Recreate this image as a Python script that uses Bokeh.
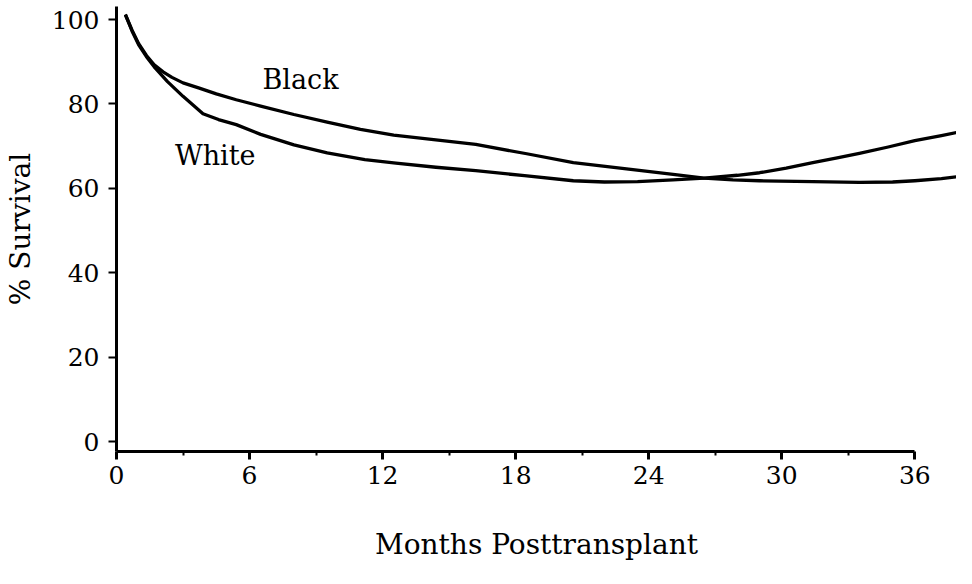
from bokeh.plotting import figure
from bokeh.models import Range1d, FixedTicker, Label
from bokeh.embed import file_html
from bokeh.resources import INLINE

# Data (months posttransplant, % survival)
black_months = [0.4, 0.7, 1.0, 1.35, 1.7, 2.1, 2.5, 3.0, 3.7, 4.5, 5.4, 6.5, 8.0, 9.5, 11.0, 12.5, 13.7, 16.2, 18.5, 20.6, 23.0, 25.1, 26.5, 27.8, 29.0, 31.4, 33.5, 35.0, 36.0, 37.2, 38.3]
black_surv = [101.2, 97.5, 94.3, 91.5, 89.3, 87.6, 86.3, 85.0, 83.8, 82.4, 81.0, 79.5, 77.5, 75.7, 74.0, 72.6, 71.9, 70.4, 68.2, 66.1, 64.6, 63.3, 62.4, 62.0, 61.8, 61.6, 61.4, 61.5, 61.8, 62.3, 63.0]

white_months = [0.4, 0.7, 1.0, 1.35, 1.7, 2.3, 3.0, 3.9, 4.6, 5.4, 6.5, 8.0, 9.5, 11.2, 12.6, 14.4, 16.2, 18.4, 20.6, 22.0, 23.5, 25.1, 26.5, 28.0, 29.0, 30.2, 31.4, 32.5, 33.5, 34.8, 36.0, 37.2, 38.3]
white_surv = [101.2, 97.3, 94.0, 91.2, 88.8, 85.3, 81.8, 77.7, 76.3, 75.1, 72.8, 70.3, 68.4, 66.8, 66.0, 65.0, 64.2, 63.0, 61.8, 61.5, 61.6, 62.0, 62.4, 63.1, 63.7, 64.8, 66.1, 67.2, 68.3, 69.8, 71.3, 72.5, 73.7]

x_ticks = [0, 6, 12, 18, 24, 30, 36]
x_minor_ticks = [3, 9, 15, 21, 27, 33]
y_ticks = [0, 20, 40, 60, 80, 100]

series_labels = ["Black", "White"]
label_pos_x = [8.3, 4.45]
label_pos_y = [85.8, 67.8]

x_title = "Months Posttransplant"
y_title = "% Survival"

FONT = "DejaVu Serif"

p = figure(width=956, height=568, output_backend="svg", toolbar_location=None,
           x_range=Range1d(0, 37.88), y_range=Range1d(-2.37, 103.1),
           min_border_left=112, min_border_right=0, min_border_top=6, min_border_bottom=117)
p.outline_line_color = None
p.grid.visible = False
p.background_fill_color = "white"

p.line(black_months, black_surv, line_color="black", line_width=3.3, line_join="round")
p.line(white_months, white_surv, line_color="black", line_width=3.3, line_join="round")

for t, lx, ly in zip(series_labels, label_pos_x, label_pos_y):
    p.add_layout(Label(x=lx, y=ly, text=t, text_font=FONT, text_font_size="27px",
                       text_align="center", text_baseline="middle", text_color="black"))

xa = p.xaxis[0]
xa.ticker = FixedTicker(ticks=x_ticks, minor_ticks=x_minor_ticks)
xa.bounds = (0, 36)
xa.axis_line_width = 3
xa.major_tick_line_width = 3
xa.minor_tick_line_width = 2
xa.major_tick_in = 0
xa.major_tick_out = 8
xa.minor_tick_in = 0
xa.minor_tick_out = 4
xa.major_label_standoff = 6
xa.major_label_text_font = FONT
xa.major_label_text_font_size = "25px"
xa.major_label_text_color = "black"
xa.axis_label = x_title
xa.axis_label_text_font = FONT
xa.axis_label_text_font_size = "28px"
xa.axis_label_text_font_style = "normal"
xa.axis_label_text_color = "black"
xa.axis_label_standoff = 41

ya = p.yaxis[0]
ya.ticker = FixedTicker(ticks=y_ticks, minor_ticks=[])
ya.axis_line_width = 3
ya.major_tick_line_width = 2
ya.major_tick_in = 0
ya.major_tick_out = 8
ya.minor_tick_in = 0
ya.minor_tick_out = 0
ya.major_label_standoff = 9
ya.major_label_text_font = FONT
ya.major_label_text_font_size = "25px"
ya.major_label_text_color = "black"
ya.axis_label = y_title
ya.axis_label_text_font = FONT
ya.axis_label_text_font_size = "28px"
ya.axis_label_text_font_style = "normal"
ya.axis_label_text_color = "black"
ya.axis_label_standoff = 12

open("out.html", "w").write(file_html(p, INLINE))
